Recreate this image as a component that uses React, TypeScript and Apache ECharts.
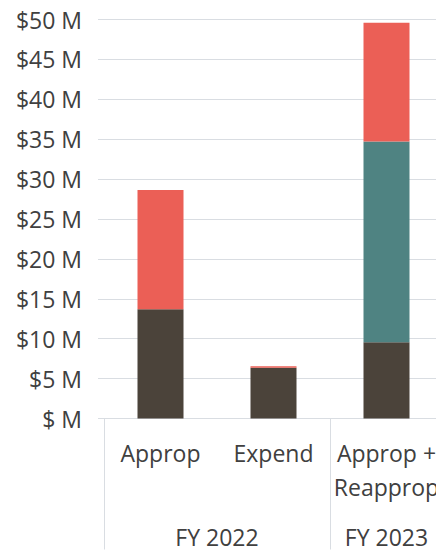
import React, { useEffect, useRef } from "react";
import * as echarts from "echarts";

const categories = ["Approp", "Expend", "Approp +\nReapprop"];
const groups = ["FY 2022", "FY 2023"];
const groupSpans = [2, 1];
const baseValues = [13.68, 6.37, 9.55];
const middleValues = [0, 0, 25.15];
const topValues = [14.95, 0.17, 14.9];
const yTicks = [0, 5, 10, 15, 20, 25, 30, 35, 40, 45, 50];

const FONT = "'Open Sans', sans-serif";
const TEXT = "#404040";
const GRID = "#d9dde2";

export default function App() {
  const ref = useRef<HTMLDivElement>(null);
  useEffect(() => {
    if (!ref.current) return;
    const chart = echarts.init(ref.current, undefined, { renderer: "svg" });
    const bounds: number[] = [0];
    groupSpans.forEach((s, i) => bounds.push(bounds[i] + s));
    const mids = groupSpans.map((s, i) => bounds[i] + s / 2);
    chart.setOption({
      animation: false,
      textStyle: { fontFamily: FONT },
      grid: {
        left: 104,
        right: 0,
        top: 19.5,
        bottom: 131.5,
        containLabel: false,
        outerBoundsMode: "none",
      },
      xAxis: [
        {
          type: "category",
          data: categories,
          position: "bottom",
          axisLine: { show: true, lineStyle: { color: GRID, width: 1 } },
          axisTick: { show: false },
          axisLabel: {
            color: TEXT,
            fontFamily: FONT,
            fontSize: 23,
            lineHeight: 34,
            margin: 17.5,
            interval: 0,
          },
        },
        {
          type: "value",
          min: 0,
          max: bounds[bounds.length - 1],
          position: "bottom",
          axisLine: { show: false },
          splitLine: { show: false },
          axisTick: {
            show: true,
            customValues: bounds,
            length: 131,
            lineStyle: { color: GRID, width: 1 },
          },
          axisLabel: {
            customValues: mids,
            formatter: (v: number) => {
              const i = mids.findIndex((m) => Math.abs(m - v) < 1e-6);
              return i >= 0 ? groups[i] : "";
            },
            color: TEXT,
            fontFamily: FONT,
            fontSize: 23,
            lineHeight: 26,
            margin: 105,
          },
        },
      ],
      yAxis: {
        type: "value",
        min: yTicks[0],
        max: yTicks[yTicks.length - 1],
        interval: yTicks[1] - yTicks[0],
        axisLine: { show: false },
        axisTick: { show: true, length: 6, lineStyle: { color: GRID } },
        splitLine: { show: true, lineStyle: { color: GRID, width: 1 } },
        axisLabel: {
          color: TEXT,
          fontFamily: FONT,
          fontSize: 23,
          margin: 22,
          formatter: (v: number) => (v === 0 ? "$ M" : `$${v} M`),
        },
      },
      series: [
        { type: "bar", stack: "total", data: baseValues, barWidth: 46, itemStyle: { color: "#4b433a" } },
        { type: "bar", stack: "total", data: middleValues, barWidth: 46, itemStyle: { color: "#4f8382" } },
        { type: "bar", stack: "total", data: topValues, barWidth: 46, itemStyle: { color: "#eb5f56" } },
      ],
    });
    return () => chart.dispose();
  }, []);
  return (
    <div
      ref={ref}
      style={{ position: "fixed", left: 0, top: 0, width: 443, height: 550, background: "#fff" }}
    />
  );
}
